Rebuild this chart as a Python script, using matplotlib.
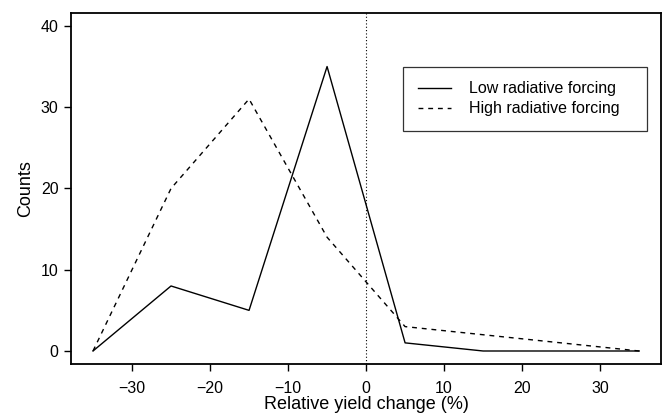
import matplotlib
matplotlib.use("Agg")
import matplotlib.pyplot as plt

plt.rcParams['font.family'] = ['Liberation Sans', 'DejaVu Sans']

yield_change = [-35, -25, -15, -5, 5, 15, 25, 35]
low_counts = [0, 8, 5, 35, 1, 0, 0, 0]
high_counts = [0, 20, 31, 14, 3, 2, 1, 0]

fig = plt.figure(figsize=(6.65, 4.16), dpi=100)
ax = fig.add_axes([0.107, 0.125, 0.887, 0.844])

ax.plot(yield_change, low_counts, color='black', lw=1.0, ls='-',
        label='Low radiative forcing')
ax.plot(yield_change, high_counts, color='black', lw=1.0, ls=(0, (3.5, 3.5)),
        label='High radiative forcing')
ax.axvline(0, color='black', lw=0.8, ls=(0, (1, 2)))

ax.set_xlim(-37.8, 37.8)
ax.set_ylim(-1.6, 41.6)
ax.set_xticks([-30, -20, -10, 0, 10, 20, 30])
ax.set_xticklabels(['\u221230', '\u221220', '\u221210', '0', '10', '20', '30'])
ax.set_yticks([0, 10, 20, 30, 40])
ax.tick_params(direction='out', length=5, width=1.0, labelsize=11.5, pad=4)
ax.tick_params(axis='x', pad=7)
for s in ax.spines.values():
    s.set_linewidth(1.3)

ax.set_xlabel('Relative yield change (%)', fontsize=13, labelpad=0)
ax.set_ylabel('Counts', fontsize=13, labelpad=5)

leg = ax.legend(loc='upper left', bbox_to_anchor=(0.563, 0.846, 0.414, 0.0),
                mode='expand', borderaxespad=0,
                fontsize=11.5, frameon=True, fancybox=False, edgecolor='black',
                handlelength=2.1, handletextpad=1.1, borderpad=0.9, labelspacing=0.3)
leg.get_frame().set_linewidth(0.9)

fig.savefig('out.png', dpi=100)
